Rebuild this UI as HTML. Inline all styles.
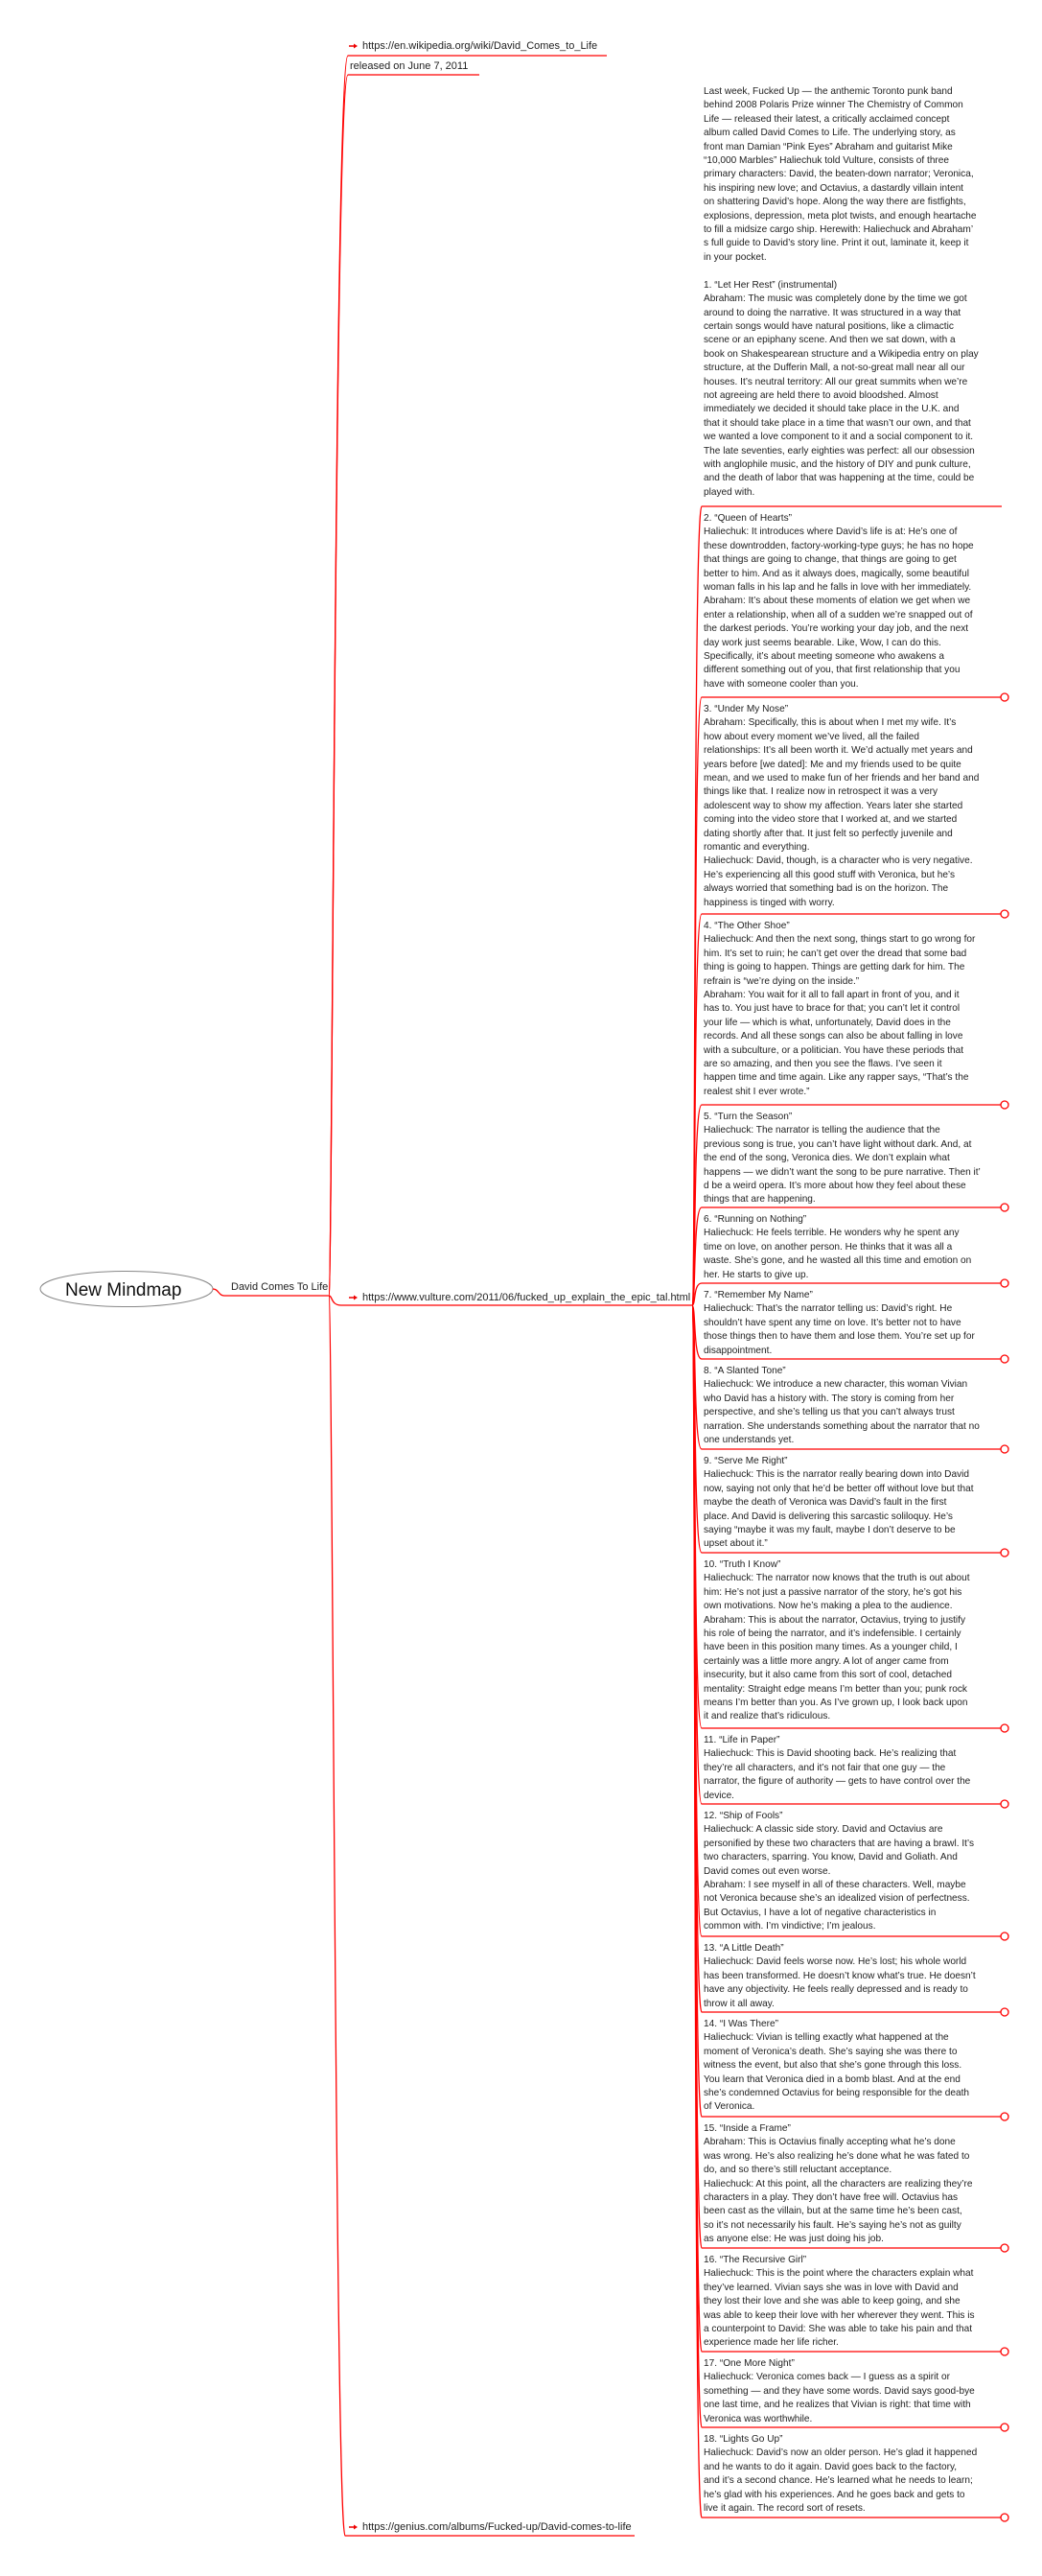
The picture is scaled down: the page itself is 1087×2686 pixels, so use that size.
<!DOCTYPE html>
<html><head><meta charset="utf-8">
<style>
html,body{margin:0;padding:0;background:#fff;}
body{width:1087px;height:2686px;position:relative;overflow:hidden;font-family:"Liberation Sans",Arial,sans-serif;color:#222;}
svg{position:absolute;left:0;top:0;}
.t{position:absolute;left:734px;font-size:10.1px;line-height:14.4px;white-space:pre;}
.l{position:absolute;font-size:11px;white-space:pre;line-height:14px;}
</style></head><body>
<svg width="1087" height="2686" viewBox="0 0 1087 2686">
<g fill="none" stroke="#f00" stroke-width="1.3">
<ellipse cx="132" cy="1344" rx="90" ry="18.5" stroke="#888" stroke-width="1"/>
<path d="M222 1344 C228 1344,228 1351,234 1351 L343 1351"/>
<path d="M343 1351 C347 1351,349 58,363 58 L633 58"/>
<path d="M343 1351 C347 1351,349 78,363 78 L500 78"/>
<path d="M343 1351 C347 1351,345 1361,356 1361 L722 1361"/>
<path d="M343 1351 C347 1351,350 2644,360 2644 L662 2644"/>
<path d="M722 1361 C726 1361,723 528,732 528 L1045 528"/>
<path d="M722 1361 C726 1361,723 727,732 727 L1044 727"/>
<path d="M722 1361 C726 1361,723 953,732 953 L1044 953"/>
<path d="M722 1361 C726 1361,723 1152,732 1152 L1044 1152"/>
<path d="M722 1361 C726 1361,723 1259,732 1259 L1044 1259"/>
<path d="M722 1361 C726 1361,723 1338,732 1338 L1044 1338"/>
<path d="M722 1361 C726 1361,723 1417,732 1417 L1044 1417"/>
<path d="M722 1361 C726 1361,723 1511,732 1511 L1044 1511"/>
<path d="M722 1361 C726 1361,723 1619,732 1619 L1044 1619"/>
<path d="M722 1361 C726 1361,723 1802,732 1802 L1044 1802"/>
<path d="M722 1361 C726 1361,723 1881,732 1881 L1044 1881"/>
<path d="M722 1361 C726 1361,723 2019,732 2019 L1044 2019"/>
<path d="M722 1361 C726 1361,723 2098,732 2098 L1044 2098"/>
<path d="M722 1361 C726 1361,723 2207,732 2207 L1044 2207"/>
<path d="M722 1361 C726 1361,723 2344,732 2344 L1044 2344"/>
<path d="M722 1361 C726 1361,723 2452,732 2452 L1044 2452"/>
<path d="M722 1361 C726 1361,723 2531,732 2531 L1044 2531"/>
<path d="M722 1361 C726 1361,723 2625,732 2625 L1044 2625"/>
<g fill="#fff">
<circle cx="1048" cy="727" r="4"/><circle cx="1048" cy="953" r="4"/><circle cx="1048" cy="1152" r="4"/>
<circle cx="1048" cy="1259" r="4"/><circle cx="1048" cy="1338" r="4"/><circle cx="1048" cy="1417" r="4"/>
<circle cx="1048" cy="1511" r="4"/><circle cx="1048" cy="1619" r="4"/><circle cx="1048" cy="1802" r="4"/>
<circle cx="1048" cy="1881" r="4"/><circle cx="1048" cy="2019" r="4"/><circle cx="1048" cy="2098" r="4"/>
<circle cx="1048" cy="2207" r="4"/><circle cx="1048" cy="2344" r="4"/><circle cx="1048" cy="2452" r="4"/>
<circle cx="1048" cy="2531" r="4"/><circle cx="1048" cy="2625" r="4"/>
</g>
</g>
<g stroke="#e00" stroke-width="1.5" fill="#e00">
<path d="M364 48 L371 48" /><path d="M369 45.5 L373 48 L369 50.5Z" stroke="none"/>
<path d="M364 1353 L371 1353" /><path d="M369 1350.5 L373 1353 L369 1355.5Z" stroke="none"/>
<path d="M364 2635 L371 2635" /><path d="M369 2632.5 L373 2635 L369 2637.5Z" stroke="none"/>
</g>
</svg>
<div class="l" style="left:68px;top:1334px;font-size:19px;line-height:24px;color:#111">New Mindmap</div>
<div class="l" style="left:241px;top:1335px;">David Comes To Life</div>
<div class="l" style="left:378px;top:41px;">https://en.wikipedia.org/wiki/David_Comes_to_Life</div>
<div class="l" style="left:365px;top:62px;">released on June 7, 2011</div>
<div class="l" style="left:378px;top:1346px;">https://www.vulture.com/2011/06/fucked_up_explain_the_epic_tal.html</div>
<div class="l" style="left:378px;top:2628px;">https://genius.com/albums/Fucked-up/David-comes-to-life</div>

<div class="t" style="top:89px">Last week, Fucked Up — the anthemic Toronto punk band
behind 2008 Polaris Prize winner The Chemistry of Common
Life — released their latest, a critically acclaimed concept
album called David Comes to Life. The underlying story, as
front man Damian “Pink Eyes” Abraham and guitarist Mike
“10,000 Marbles” Haliechuk told Vulture, consists of three
primary characters: David, the beaten-down narrator; Veronica,
his inspiring new love; and Octavius, a dastardly villain intent
on shattering David’s hope. Along the way there are fistfights,
explosions, depression, meta plot twists, and enough heartache
to fill a midsize cargo ship. Herewith: Haliechuck and Abraham’
s full guide to David’s story line. Print it out, laminate it, keep it
in your pocket.

1. “Let Her Rest” (instrumental)
Abraham: The music was completely done by the time we got
around to doing the narrative. It was structured in a way that
certain songs would have natural positions, like a climactic
scene or an epiphany scene. And then we sat down, with a
book on Shakespearean structure and a Wikipedia entry on play
structure, at the Dufferin Mall, a not-so-great mall near all our
houses. It’s neutral territory: All our great summits when we’re
not agreeing are held there to avoid bloodshed. Almost
immediately we decided it should take place in the U.K. and
that it should take place in a time that wasn’t our own, and that
we wanted a love component to it and a social component to it.
The late seventies, early eighties was perfect: all our obsession
with anglophile music, and the history of DIY and punk culture,
and the death of labor that was happening at the time, could be
played with.</div>

<div class="t" style="top:534px">2. “Queen of Hearts”
Haliechuk: It introduces where David’s life is at: He’s one of
these downtrodden, factory-working-type guys; he has no hope
that things are going to change, that things are going to get
better to him. And as it always does, magically, some beautiful
woman falls in his lap and he falls in love with her immediately.
Abraham: It’s about these moments of elation we get when we
enter a relationship, when all of a sudden we’re snapped out of
the darkest periods. You’re working your day job, and the next
day work just seems bearable. Like, Wow, I can do this.
Specifically, it’s about meeting someone who awakens a
different something out of you, that first relationship that you
have with someone cooler than you.</div>

<div class="t" style="top:733px">3. “Under My Nose”
Abraham: Specifically, this is about when I met my wife. It’s
how about every moment we’ve lived, all the failed
relationships: It’s all been worth it. We’d actually met years and
years before [we dated]: Me and my friends used to be quite
mean, and we used to make fun of her friends and her band and
things like that. I realize now in retrospect it was a very
adolescent way to show my affection. Years later she started
coming into the video store that I worked at, and we started
dating shortly after that. It just felt so perfectly juvenile and
romantic and everything.
Haliechuck: David, though, is a character who is very negative.
He’s experiencing all this good stuff with Veronica, but he’s
always worried that something bad is on the horizon. The
happiness is tinged with worry.</div>

<div class="t" style="top:959px">4. “The Other Shoe”
Haliechuck: And then the next song, things start to go wrong for
him. It’s set to ruin; he can’t get over the dread that some bad
thing is going to happen. Things are getting dark for him. The
refrain is “we’re dying on the inside.”
Abraham: You wait for it all to fall apart in front of you, and it
has to. You just have to brace for that; you can’t let it control
your life — which is what, unfortunately, David does in the
records. And all these songs can also be about falling in love
with a subculture, or a politician. You have these periods that
are so amazing, and then you see the flaws. I’ve seen it
happen time and time again. Like any rapper says, “That’s the
realest shit I ever wrote.”</div>

<div class="t" style="top:1158px">5. “Turn the Season”
Haliechuck: The narrator is telling the audience that the
previous song is true, you can’t have light without dark. And, at
the end of the song, Veronica dies. We don’t explain what
happens — we didn’t want the song to be pure narrative. Then it’
d be a weird opera. It’s more about how they feel about these
things that are happening.</div>

<div class="t" style="top:1265px">6. “Running on Nothing”
Haliechuck: He feels terrible. He wonders why he spent any
time on love, on another person. He thinks that it was all a
waste. She’s gone, and he wasted all this time and emotion on
her. He starts to give up.</div>

<div class="t" style="top:1344px">7. “Remember My Name”
Haliechuck: That’s the narrator telling us: David’s right. He
shouldn’t have spent any time on love. It’s better not to have
those things then to have them and lose them. You’re set up for
disappointment.</div>

<div class="t" style="top:1423px">8. “A Slanted Tone”
Haliechuck: We introduce a new character, this woman Vivian
who David has a history with. The story is coming from her
perspective, and she’s telling us that you can’t always trust
narration. She understands something about the narrator that no
one understands yet.</div>

<div class="t" style="top:1517px">9. “Serve Me Right”
Haliechuck: This is the narrator really bearing down into David
now, saying not only that he’d be better off without love but that
maybe the death of Veronica was David’s fault in the first
place. And David is delivering this sarcastic soliloquy. He’s
saying “maybe it was my fault, maybe I don’t deserve to be
upset about it.”</div>

<div class="t" style="top:1625px">10. “Truth I Know”
Haliechuck: The narrator now knows that the truth is out about
him: He’s not just a passive narrator of the story, he’s got his
own motivations. Now he’s making a plea to the audience.
Abraham: This is about the narrator, Octavius, trying to justify
his role of being the narrator, and it’s indefensible. I certainly
have been in this position many times. As a younger child, I
certainly was a little more angry. A lot of anger came from
insecurity, but it also came from this sort of cool, detached
mentality: Straight edge means I’m better than you; punk rock
means I’m better than you. As I’ve grown up, I look back upon
it and realize that’s ridiculous.</div>

<div class="t" style="top:1808px">11. “Life in Paper”
Haliechuck: This is David shooting back. He’s realizing that
they’re all characters, and it’s not fair that one guy — the
narrator, the figure of authority — gets to have control over the
device.</div>

<div class="t" style="top:1887px">12. “Ship of Fools”
Haliechuck: A classic side story. David and Octavius are
personified by these two characters that are having a brawl. It’s
two characters, sparring. You know, David and Goliath. And
David comes out even worse.
Abraham: I see myself in all of these characters. Well, maybe
not Veronica because she’s an idealized vision of perfectness.
But Octavius, I have a lot of negative characteristics in
common with. I’m vindictive; I’m jealous.</div>

<div class="t" style="top:2025px">13. “A Little Death”
Haliechuck: David feels worse now. He’s lost; his whole world
has been transformed. He doesn’t know what’s true. He doesn’t
have any objectivity. He feels really depressed and is ready to
throw it all away.</div>

<div class="t" style="top:2104px">14. “I Was There”
Haliechuck: Vivian is telling exactly what happened at the
moment of Veronica’s death. She’s saying she was there to
witness the event, but also that she’s gone through this loss.
You learn that Veronica died in a bomb blast. And at the end
she’s condemned Octavius for being responsible for the death
of Veronica.</div>

<div class="t" style="top:2213px">15. “Inside a Frame”
Abraham: This is Octavius finally accepting what he’s done
was wrong. He’s also realizing he’s done what he was fated to
do, and so there’s still reluctant acceptance.
Haliechuck: At this point, all the characters are realizing they’re
characters in a play. They don’t have free will. Octavius has
been cast as the villain, but at the same time he’s been cast,
so it’s not necessarily his fault. He’s saying he’s not as guilty
as anyone else: He was just doing his job.</div>

<div class="t" style="top:2350px">16. “The Recursive Girl”
Haliechuck: This is the point where the characters explain what
they’ve learned. Vivian says she was in love with David and
they lost their love and she was able to keep going, and she
was able to keep their love with her wherever they went. This is
a counterpoint to David: She was able to take his pain and that
experience made her life richer.</div>

<div class="t" style="top:2458px">17. “One More Night”
Haliechuck: Veronica comes back — I guess as a spirit or
something — and they have some words. David says good-bye
one last time, and he realizes that Vivian is right: that time with
Veronica was worthwhile.</div>

<div class="t" style="top:2537px">18. “Lights Go Up”
Haliechuck: David’s now an older person. He’s glad it happened
and he wants to do it again. David goes back to the factory,
and it’s a second chance. He’s learned what he needs to learn;
he’s glad with his experiences. And he goes back and gets to
live it again. The record sort of resets.</div>
</body></html>
